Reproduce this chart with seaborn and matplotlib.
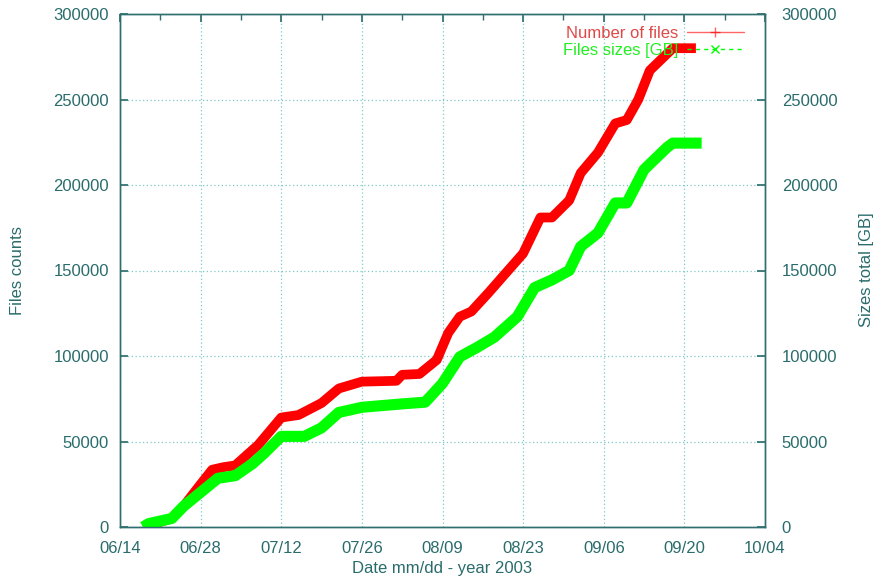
import matplotlib
matplotlib.use("Agg")
import matplotlib.pyplot as plt
import matplotlib.dates as mdates
from matplotlib.lines import Line2D
import seaborn as sns
import pandas as pd

# ---- data ----
files_dates = ["2003-06-18", "2003-06-21", "2003-06-23", "2003-06-25", "2003-06-28",
               "2003-06-30", "2003-07-02", "2003-07-04", "2003-07-08", "2003-07-12",
               "2003-07-15", "2003-07-19", "2003-07-22", "2003-07-26", "2003-08-01",
               "2003-08-02", "2003-08-05", "2003-08-08", "2003-08-10", "2003-08-12",
               "2003-08-14", "2003-08-17", "2003-08-20", "2003-08-23", "2003-08-26",
               "2003-08-28", "2003-08-31", "2003-09-02", "2003-09-05", "2003-09-08",
               "2003-09-10", "2003-09-12", "2003-09-14", "2003-09-18", "2003-09-22"]
files_counts = [0, 3000, 5000, 12000, 25000,
                33500, 35000, 36000, 48000, 64000,
                65500, 72500, 81000, 85000, 85500,
                89000, 89500, 97700, 113500, 123000,
                126000, 137000, 148500, 160000, 181000,
                181000, 191000, 207000, 219000, 236000,
                238000, 250000, 267000, 280000, 280000]

size_dates = ["2003-06-18", "2003-06-19", "2003-06-23", "2003-06-25", "2003-07-01",
              "2003-07-04", "2003-07-07", "2003-07-09", "2003-07-12", "2003-07-16",
              "2003-07-19", "2003-07-22", "2003-07-26", "2003-08-02", "2003-08-06",
              "2003-08-09", "2003-08-12", "2003-08-15", "2003-08-18", "2003-08-22",
              "2003-08-25", "2003-08-28", "2003-08-31", "2003-09-02", "2003-09-05",
              "2003-09-08", "2003-09-10", "2003-09-13", "2003-09-17", "2003-09-18",
              "2003-09-23"]
size_totals = [0, 2000, 5000, 12000, 28500,
               30000, 37000, 43000, 53000, 53000,
               58000, 67000, 70000, 72000, 73000,
               84000, 99500, 105000, 111000, 123000,
               140000, 144500, 150000, 164000, 172000,
               189500, 189500, 209000, 222000, 224500,
               224500]

x_ticks = ["2003-06-14", "2003-06-28", "2003-07-12", "2003-07-26", "2003-08-09",
           "2003-08-23", "2003-09-06", "2003-09-20", "2003-10-04"]
y_ticks = [0, 50000, 100000, 150000, 200000, 250000, 300000]

label_files = "Number of files"
label_sizes = "Files sizes [GB]"

# ---- style ----
sns.set_theme(style="white")
plt.rcParams["font.family"] = ["Liberation Sans", "DejaVu Sans"]
TEXT = "#2a6c6c"
AXC = "#2f6f6f"
GRID = "#7ec8c8"
RED = "#ff0000"
GREEN = "#00ff00"

df_f = pd.DataFrame({"date": pd.to_datetime(files_dates), "value": files_counts})
df_s = pd.DataFrame({"date": pd.to_datetime(size_dates), "value": size_totals})

fig = plt.figure(figsize=(8.74, 5.83), dpi=100)
ax = fig.add_axes([120 / 874, 56 / 583, 645 / 874, 513 / 583])
ax2 = ax.twinx()

sns.lineplot(data=df_f, x="date", y="value", ax=ax, color=RED, linewidth=7,
             solid_capstyle="butt", solid_joinstyle="round", legend=False)
sns.lineplot(data=df_s, x="date", y="value", ax=ax2, color=GREEN, linewidth=8,
             solid_capstyle="butt", solid_joinstyle="round", legend=False)

xt = pd.to_datetime(x_ticks)
for a in (ax, ax2):
    a.set_xlim(xt[0], xt[-1])
    a.set_ylim(0, 300000)
    a.set_yticks(y_ticks)
    a.set_xlabel("")
    a.set_ylabel("")

ax.set_xticks(xt)
ax.set_xticklabels([d.strftime("%m/%d") for d in xt])
minor = pd.date_range(xt[0], xt[-1], freq="7D")
ax.set_xticks(minor, minor=True)

ax.set_yticklabels([str(v) for v in y_ticks])
ax2.set_yticklabels([str(v) for v in y_ticks])

ax.grid(True, which="major", linestyle=(0, (1, 2)), color=GRID, linewidth=0.9)
ax.set_axisbelow(True)

for a in (ax, ax2):
    for s in a.spines.values():
        s.set_color(AXC)
        s.set_linewidth(1.0)
ax.tick_params(axis="both", which="both", direction="in", colors=AXC,
               labelcolor=TEXT, labelsize=12, top=True, length=6)
ax.tick_params(axis="x", which="minor", length=4)
ax.tick_params(axis="y", pad=8)
ax.tick_params(axis="x", pad=10)
ax2.tick_params(axis="y", direction="in", colors=AXC, labelcolor=TEXT,
                labelsize=12, length=6, pad=12)

fig.text(18 / 874, 1 - 270 / 583, "Files counts", rotation=90, color=TEXT,
         fontsize=12, ha="center", va="center")
fig.text(866 / 874, 1 - 270 / 583, "Sizes total [GB]", rotation=90, color=TEXT,
         fontsize=12, ha="center", va="center")
fig.text(442 / 874, 1 - 568 / 583, "Date mm/dd - year 2003", color=TEXT,
         fontsize=12, ha="center", va="center")

handles = [Line2D([0, 0.5, 1], [0, 0, 0], color=RED, linewidth=1, marker="+",
                  markersize=7, markevery=[1], alpha=0.6),
           Line2D([0, 0.5, 1], [0, 0, 0], color=GREEN, linewidth=1,
                  linestyle=(0, (3, 3)), marker="x", markersize=6, markevery=[1])]
leg = ax2.legend(handles, [label_files, label_sizes], loc="upper right",
                 bbox_to_anchor=(0.985, 1.0), frameon=False, markerfirst=False,
                 fontsize=12, handlelength=3.4, handletextpad=0.5,
                 labelspacing=0.15, borderaxespad=0.3)
leg.get_texts()[0].set_color("#e04848")
leg.get_texts()[1].set_color("#22ee22")

fig.savefig("out.png", dpi=100, facecolor="white")
